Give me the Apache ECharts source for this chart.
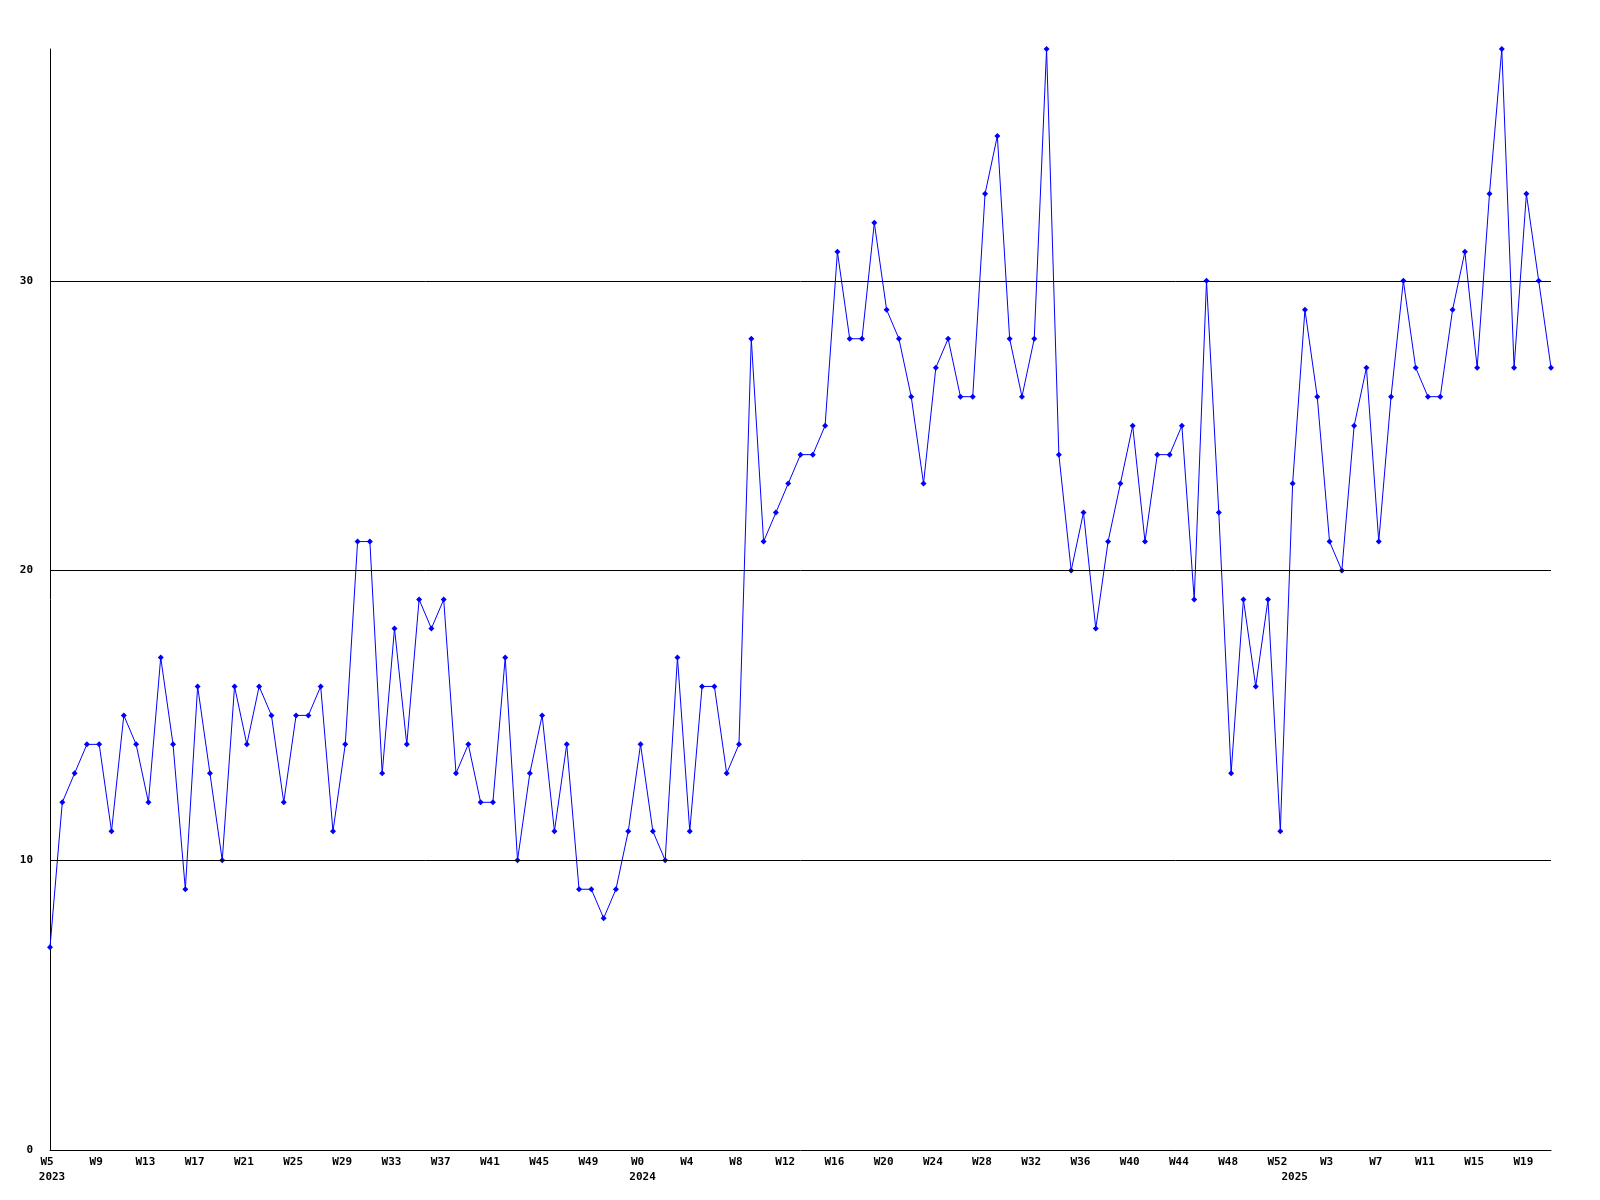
<!DOCTYPE html>
<html>
<head>
<meta charset="utf-8">
<script src="https://cdn.jsdelivr.net/npm/echarts@6/dist/echarts.min.js"></script>
<style>
html,body{margin:0;padding:0;background:#fff;}
#chart{width:1600px;height:1200px;}
</style>
</head>
<body>
<div id="chart"></div>
<script>
// Weeks per year shown on the axis
const weeks2023 = []; for (let w = 5; w <= 52; w++) weeks2023.push('W' + w);
const weeks2024 = []; for (let w = 0; w <= 52; w++) weeks2024.push('W' + w);
const weeks2025 = []; for (let w = 0; w <= 21; w++) weeks2025.push('W' + w);
const years = ['2023', '2024', '2025'];

const values2023 = [7,12,13,14,14,11,15,14,12,17,14,9,16,13,10,16,14,16,15,12,15,15,16,11,14,21,21,13,18,14,19,18,19,13,14,12,12,17,10,13,15,11,14,9,9,8,9,11];
const values2024 = [14,11,10,17,11,16,16,13,14,28,21,22,23,24,24,25,31,28,28,32,29,28,26,23,27,28,26,26,33,35,28,26,28,38,24,20,22,18,21,23,25,21,24,24,25,19,30,22,13,19,16,19,11];
const values2025 = [23,29,26,21,20,25,27,21,26,30,27,26,26,29,31,27,33,38,27,33,30,27];

const yTicks = [10, 20, 30];

const categories = weeks2023.concat(weeks2024, weeks2025);
const values = values2023.concat(values2024, values2025);
const yearStart = {};
yearStart[0] = years[0];
yearStart[weeks2023.length] = years[1];
yearStart[weeks2023.length + weeks2024.length] = years[2];

const chart = echarts.init(document.getElementById('chart'));
const font = '"DejaVu Sans Mono", monospace';
chart.setOption({
  animation: false,
  backgroundColor: '#ffffff',
  grid: {left: 50, right: 49, top: 49, bottom: 50, containLabel: false},
  xAxis: {
    type: 'category',
    data: categories,
    boundaryGap: false,
    axisLine: {show: true, lineStyle: {color: '#000', width: 1}},
    axisTick: {show: false},
    splitLine: {show: false},
    axisLabel: {
      color: '#000',
      fontFamily: font,
      fontWeight: 'bold',
      fontSize: 11,
      lineHeight: 15,
      margin: 5,
      padding: [0, 6, 0, 0],
      interval: function (i) { return i % 4 === 0 || yearStart[i] !== undefined; },
      formatter: function (v, i) {
        const y = yearStart[i];
        const top = (i % 4 === 0) ? v : ' ';
        return y !== undefined ? top + '\n{yr|' + y + '}' : top;
      },
      rich: {
        yr: {
          color: '#000',
          fontFamily: font,
          fontWeight: 'bold',
          fontSize: 11,
          lineHeight: 15,
          padding: [0, 0, 0, 10]
        }
      }
    }
  },
  yAxis: {
    type: 'value',
    min: 0,
    max: 38,
    interval: 10,
    axisLine: {show: true, lineStyle: {color: '#000', width: 1}},
    axisTick: {show: false},
    splitLine: {show: false},
    axisLabel: {
      color: '#000',
      fontFamily: font,
      fontWeight: 'bold',
      fontSize: 11,
      margin: 17,
      formatter: function (v) { return v % 10 === 0 ? String(v) : ''; }
    }
  },
  series: [
    {
      type: 'line',
      data: [],
      z: 1,
      silent: true,
      markLine: {
        silent: true,
        symbol: ['none', 'none'],
        label: {show: false},
        lineStyle: {color: '#000', width: 1, type: 'solid'},
        data: yTicks.map(function (t) { return {yAxis: t}; })
      }
    },
    {
      type: 'line',
      data: values,
      z: 3,
      symbol: 'diamond',
      symbolSize: 6,
      showAllSymbol: true,
      lineStyle: {color: '#0000ff', width: 1},
      itemStyle: {color: '#0000ff'}
    }
  ]
});
</script>
</body>
</html>
